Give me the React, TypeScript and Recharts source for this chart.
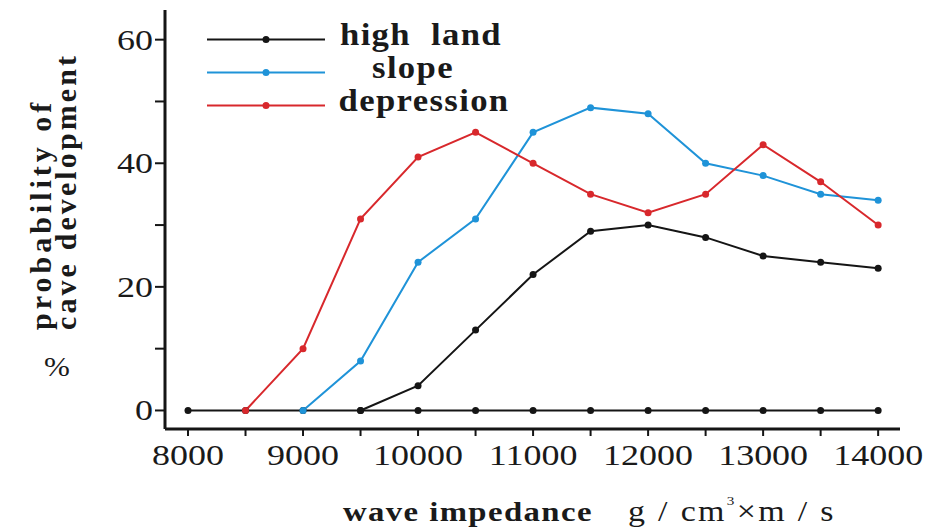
import React from 'react';
import { LineChart, Line, XAxis, YAxis, Legend } from 'recharts';

// wave impedance, g/cm³·m/s
const impedance = [8000, 8500, 9000, 9500, 10000, 10500, 11000, 11500, 12000, 12500, 13000, 13500, 14000];
// probability of cave development, %
const zeroLine = [0, 0, 0, 0, 0, 0, 0, 0, 0, 0, 0, 0, 0];
const highLand = [null, null, null, 0, 4, 13, 22, 29, 30, 28, 25, 24, 23];
const slope = [null, null, 0, 8, 24, 31, 45, 49, 48, 40, 38, 35, 34];
const depression = [null, 0, 10, 31, 41, 45, 40, 35, 32, 35, 43, 37, 30];

const seriesNames = ['high land', 'slope', 'depression'];
const xTicks = [8000, 8500, 9000, 9500, 10000, 10500, 11000, 11500, 12000, 12500, 13000, 13500, 14000];
const yTicks = [0, 10, 20, 30, 40, 50, 60];

const BLACK = '#151515';
const BLUE = '#1f93d8';
const RED = '#d8282c';
const SERIF = 'Liberation Serif';

type Pt = { x: number; y: number };
const toPoints = (vals: (number | null)[]): Pt[] =>
  impedance.map((x, i) => ({ x, y: vals[i] as number })).filter((p) => p.y !== null && p.y !== undefined);

const XTick = (props: any) => {
  const { x, y, payload } = props;
  if (payload.value % 1000 !== 0) return null;
  return (
    <text
      transform={`translate(${x},${y + 27}) scale(1.2,1)`}
      textAnchor="middle"
      style={{ fontFamily: SERIF, fontSize: 30 }}
      fill="#1a1a1a"
    >
      {payload.value}
    </text>
  );
};

const YTick = (props: any) => {
  const { x, y, payload } = props;
  if (payload.value % 20 !== 0) return null;
  return (
    <text
      transform={`translate(${x},${y + 10}) scale(1.2,1)`}
      textAnchor="end"
      style={{ fontFamily: SERIF, fontSize: 30 }}
      fill="#1a1a1a"
    >
      {payload.value}
    </text>
  );
};

const legendCenters = [421, 413, 424];

const renderLegend = (props: any) => {
  const payload = props.payload || [];
  const items = seriesNames
    .map((n) => payload.find((p: any) => p.value === n))
    .filter(Boolean);
  return (
    <svg width={520} height={130} style={{ display: 'block' }}>
      {items.map((item: any, i: number) => {
        const ly = 39.5 + i * 33;
        return (
          <g key={item.value}>
            <line x1={207} x2={325} y1={ly} y2={ly} stroke={item.color} strokeWidth={2} />
            <circle cx={266} cy={ly} r={3.5} fill={item.color} />
            <text
              transform={`translate(${legendCenters[i]},${ly + 5.5}) scale(1.12,1)`}
              textAnchor="middle"
              style={{ fontFamily: SERIF, fontWeight: 'bold', fontSize: 31, letterSpacing: 1.2, whiteSpace: 'pre' }}
              fill="#1a1a1a"
            >
              {item.value.replace(' ', '  ')}
            </text>
          </g>
        );
      })}
    </svg>
  );
};

const YTitle = () => (
  <g fill="#1a1a1a">
    <text
      transform="translate(51,330) rotate(-90)"
      style={{ fontFamily: SERIF, fontWeight: 'bold', fontSize: 30, letterSpacing: 4 }}
    >
      probability of
    </text>
    <text
      transform="translate(76,330) rotate(-90)"
      style={{ fontFamily: SERIF, fontWeight: 'bold', fontSize: 30, letterSpacing: 3.1 }}
    >
      cave development
    </text>
    <text
      transform="translate(57,376) scale(1.15,1)"
      textAnchor="middle"
      style={{ fontFamily: SERIF, fontSize: 27 }}
    >
      %
    </text>
  </g>
);

const XTitle = () => (
  <g fill="#1a1a1a">
    <text
      transform="translate(343,521) scale(1.17,1)"
      style={{ fontFamily: SERIF, fontWeight: 'bold', fontSize: 28, letterSpacing: 1.2 }}
    >
      wave impedance
    </text>
    <text
      transform="translate(628,521) scale(1.17,1)"
      style={{ fontFamily: SERIF, fontSize: 29, letterSpacing: 2, whiteSpace: 'pre' }}
    >
      g / cm
      <tspan dy={-16} style={{ fontSize: 13 }}>3</tspan>
      <tspan dy={16}>×m / s</tspan>
    </text>
  </g>
);

const dotFor = (color: string) => ({ r: 3.5, fill: color, stroke: color, strokeWidth: 0 });

export default function App() {
  return (
    <div style={{ position: 'absolute', left: 0, top: 0, width: 928, height: 529, background: '#fff' }}>
      <LineChart width={928} height={529} margin={{ top: 10, right: 28, bottom: 60, left: 105 }}>
        <XAxis
          type="number"
          dataKey="x"
          domain={[7800, 14190]}
          ticks={xTicks}
          interval={0}
          height={40}
          tickSize={7}
          axisLine={{ stroke: BLACK, strokeWidth: 3 }}
          tickLine={{ stroke: BLACK, strokeWidth: 2 }}
          tick={<XTick />}
          allowDataOverflow
          label={{ content: () => <XTitle /> }}
        />
        <YAxis
          type="number"
          dataKey="y"
          domain={[-3, 64.8]}
          ticks={yTicks}
          interval={0}
          width={60}
          tickSize={10}
          axisLine={{ stroke: BLACK, strokeWidth: 3 }}
          tickLine={{ stroke: BLACK, strokeWidth: 2 }}
          tick={<YTick />}
          allowDataOverflow
          label={{ content: () => <YTitle /> }}
        />
        <Legend
          content={renderLegend}
          layout="vertical"
          align="center"
          verticalAlign="middle"
          wrapperStyle={{ position: 'absolute', left: 0, top: 0, width: 520, height: 130 }}
        />
        <Line
          data={toPoints(zeroLine)}
          dataKey="y"
          name="zero"
          legendType="none"
          type="linear"
          stroke={BLACK}
          strokeWidth={2}
          dot={dotFor(BLACK)}
          isAnimationActive={false}
        />
        <Line
          data={toPoints(highLand)}
          dataKey="y"
          name="high land"
          type="linear"
          stroke={BLACK}
          strokeWidth={2}
          dot={dotFor(BLACK)}
          isAnimationActive={false}
        />
        <Line
          data={toPoints(slope)}
          dataKey="y"
          name="slope"
          type="linear"
          stroke={BLUE}
          strokeWidth={2}
          dot={dotFor(BLUE)}
          isAnimationActive={false}
        />
        <Line
          data={toPoints(depression)}
          dataKey="y"
          name="depression"
          type="linear"
          stroke={RED}
          strokeWidth={2}
          dot={dotFor(RED)}
          isAnimationActive={false}
        />
      </LineChart>
    </div>
  );
}
